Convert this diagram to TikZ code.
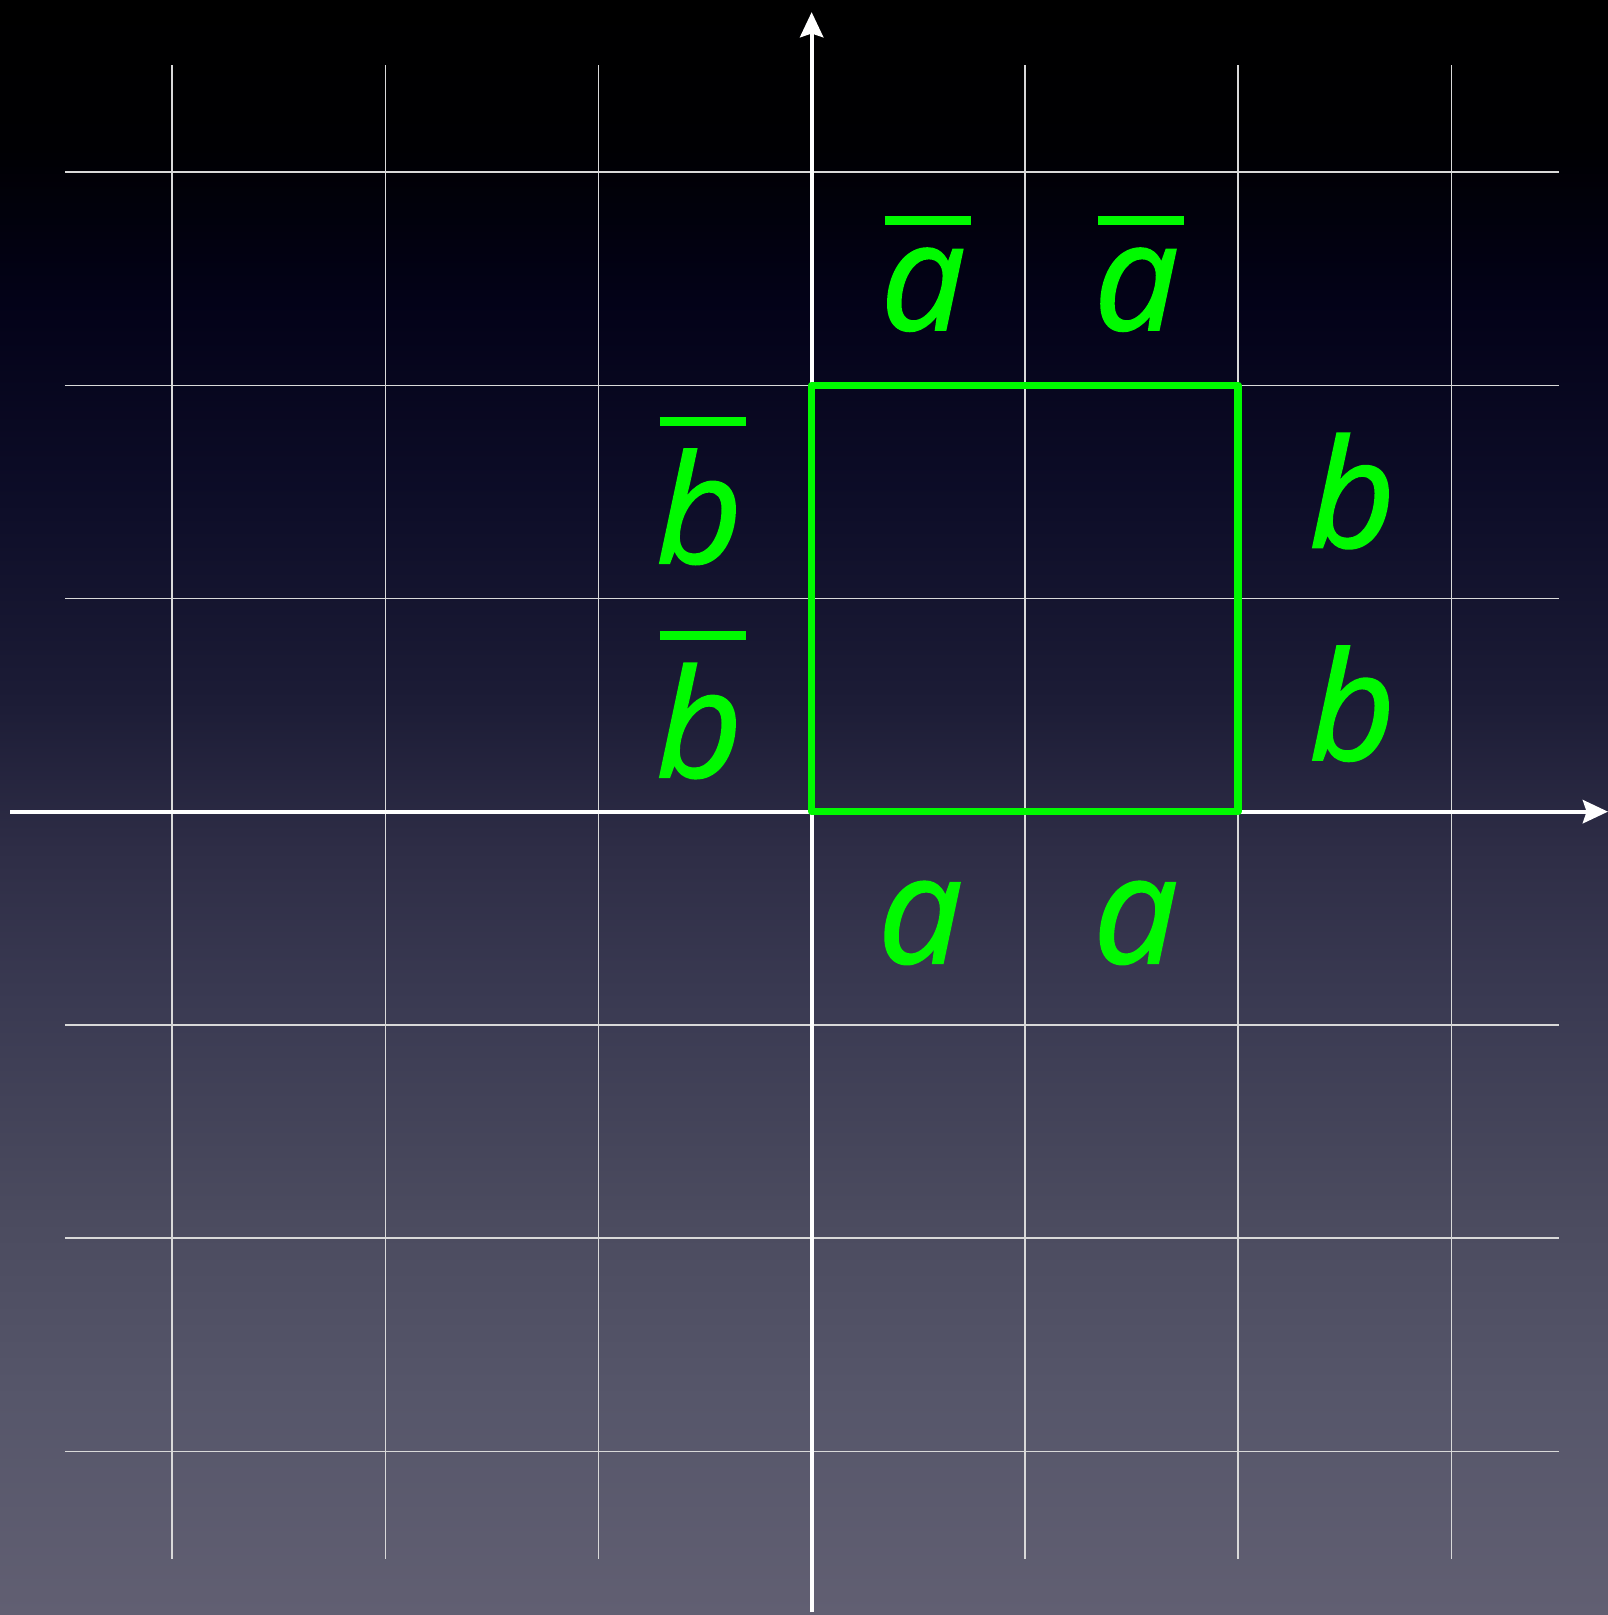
\documentclass[tikz,border=0pt]{standalone}
\usepackage{fontspec}
\setmainfont{Open Sans}
\newfontfamily\lblfont{Open Sans}[ItalicFeatures={FakeBold=1.3}]
\usetikzlibrary{arrows.meta}

\definecolor{lblgreen}{RGB}{0,250,0}
% night sky background, bottom (25bp) to top (75bp)
\pgfdeclareverticalshading{nightsky}{100bp}{
  color(0bp)=(rgb,255:red,97;green,95;blue,114);
  color(25bp)=(rgb,255:red,97;green,95;blue,114);
  color(31.7bp)=(rgb,255:red,86;green,86;blue,106);
  color(37.8bp)=(rgb,255:red,74;green,74;blue,94);
  color(44bp)=(rgb,255:red,58;green,58;blue,82);
  color(48.7bp)=(rgb,255:red,46;green,45;blue,70);
  color(53.3bp)=(rgb,255:red,28;green,28;blue,54);
  color(59.5bp)=(rgb,255:red,13;green,13;blue,40);
  color(65.7bp)=(rgb,255:red,3;green,2;blue,24);
  color(70.4bp)=(rgb,255:red,0;green,0;blue,3);
  color(75bp)=(rgb,255:red,0;green,0;blue,0);
  color(100bp)=(rgb,255:red,0;green,0;blue,0)}

% letter with a bar over it
\newcommand{\ovl}[1]{\setbox0\hbox{#1}\vbox{\offinterlineskip\hbox{\kern1pt\rule{23pt}{2.3pt}}\kern6.3pt\box0}}

\begin{document}
\begin{tikzpicture}[x=2cm, y=2cm, >={Stealth[inset=1pt, length=6.7pt, width=6.2pt]},
  gridline/.style={white!85!black, line width=0.35pt},
  axisline/.style={white, line width=1.1pt, ->},
  region/.style={lblgreen, line width=2pt},
  lbl/.style={lblgreen, font=\fontsize{40}{48}\lblfont\itshape, anchor=base, inner sep=0pt}]
\useasboundingbox (-3.807,-3.768) rectangle (3.735,3.807);
\shade[shading=nightsky] (-3.807,-3.768) rectangle (3.735,3.807);
% grid
\foreach \k in {-3,-2,-1,1,2,3} {
  \draw[gridline] (\k,-3.503) -- (\k,3.503);
  \draw[gridline] (-3.503,\k) -- (3.503,\k);
}
% axes
\coordinate (xmin) at (-3.76,0);
\coordinate (xmax) at (3.735,0);
\coordinate (ymin) at (0,-3.755);
\coordinate (ymax) at (0,3.75);
\draw[axisline] (xmin) -- (xmax);
\draw[axisline] (ymin) -- (ymax);
% square
\coordinate (O) at (0,0);
\coordinate (Q) at (2,2);
\draw[region, line join=round] (O) rectangle (Q);
% labels
\node[lbl] (na1) at (0.535,2.26) {\ovl{a}};
\node[lbl] (na2) at (1.535,2.26) {\ovl{a}};
\node[lbl] (nb1) at (-0.52,1.166) {\ovl{b}};
\node[lbl] (nb2) at (-0.52,0.162) {\ovl{b}};
\node[lbl] (b1) at (2.535,1.24) {b};
\node[lbl] (b2) at (2.535,0.243) {b};
\node[lbl] (a1) at (0.51,-0.71) {a};
\node[lbl] (a2) at (1.52,-0.71) {a};
\end{tikzpicture}
\end{document}
